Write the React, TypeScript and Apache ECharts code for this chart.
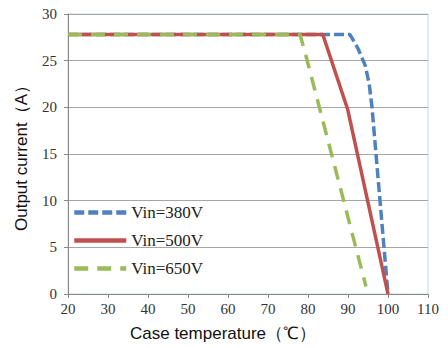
import React, { useEffect, useRef } from "react";
import * as echarts from "echarts";

const seriesNames = ["Vin=380V", "Vin=500V", "Vin=650V"];
const temp380 = [20, 90.5, 92.5, 94.3, 95.3, 96, 98, 100];
const cur380 = [27.8, 27.8, 26.3, 24.5, 22.5, 20, 10, 0];
const temp500 = [20, 83.7, 89.9, 100];
const cur500 = [27.8, 27.8, 19.8, 0];
const temp650 = [20, 78, 79.5, 94.5];
const cur650 = [27.8, 27.8, 25.5, 0.8];
const xTicks = { min: 20, max: 110, interval: 10 };
const yTicks = { min: 0, max: 30, interval: 5 };

const colors = ["#4f81bd", "#c0504d", "#9bbb59"];

function pairs(xs: number[], ys: number[]) {
  return xs.map((x, i) => [x, ys[i]]);
}

export default function App() {
  const ref = useRef<HTMLDivElement>(null);
  useEffect(() => {
    if (!ref.current) return;
    const chart = echarts.init(ref.current, undefined, { renderer: "svg" });
    const serifFont = "Liberation Serif";
    const labelStyle = { fontFamily: serifFont, fontSize: 15, color: "#333" };
    chart.setOption({
      animation: false,
      grid: {
        left: 68,
        right: 20,
        top: 14,
        bottom: 54,
        show: true,
        borderColor: "#c6d6f0",
        borderWidth: 1,
      },
      legend: {
        orient: "vertical",
        left: 67,
        top: 199,
        itemWidth: 52,
        itemHeight: 14,
        itemGap: 11,
        data: seriesNames,
        itemStyle: { opacity: 0, borderWidth: 0 },
        lineStyle: { width: 4.5 },
        textStyle: { fontFamily: serifFont, fontSize: 17, color: "#222" },
      },
      xAxis: {
        type: "value",
        ...xTicks,
        name: "Case temperature（℃）",
        nameLocation: "middle",
        nameGap: 31,
        nameTextStyle: {
          fontFamily: "Liberation Sans",
          fontSize: 17,
          color: "#111",
          padding: [0, 50, 0, 0],
        },
        axisLine: { show: true, lineStyle: { color: "#888", width: 1 } },
        axisTick: { show: true, length: 4, lineStyle: { color: "#888" } },
        axisLabel: { ...labelStyle, margin: 7 },
        splitLine: { show: false },
      },
      yAxis: {
        type: "value",
        ...yTicks,
        name: "Output current（A）",
        nameLocation: "middle",
        nameGap: 38,
        nameTextStyle: { fontFamily: "Liberation Sans", fontSize: 17, color: "#111" },
        axisLine: { show: true, lineStyle: { color: "#888", width: 1 } },
        axisTick: { show: true, length: 4, lineStyle: { color: "#888" } },
        axisLabel: { ...labelStyle, margin: 11 },
        splitLine: { show: true, lineStyle: { color: "#a6a6a6", width: 1 } },
      },
      series: [
        {
          name: seriesNames[0],
          type: "line",
          symbol: "none",
          smooth: false,
          data: pairs(temp380, cur380),
          lineStyle: { color: colors[0], width: 3.5, type: [10, 4] },
          itemStyle: { color: colors[0] },
        },
        {
          name: seriesNames[1],
          type: "line",
          symbol: "none",
          data: pairs(temp500, cur500),
          lineStyle: { color: colors[1], width: 3.5, type: "solid" },
          itemStyle: { color: colors[1] },
        },
        {
          name: seriesNames[2],
          type: "line",
          symbol: "none",
          data: pairs(temp650, cur650),
          lineStyle: { color: colors[2], width: 3.5, type: [14, 9] },
          itemStyle: { color: colors[2] },
        },
      ],
    });
    return () => chart.dispose();
  }, []);
  return <div ref={ref} style={{ width: 448, height: 348, marginLeft: -8, marginTop: -8 }} />;
}
